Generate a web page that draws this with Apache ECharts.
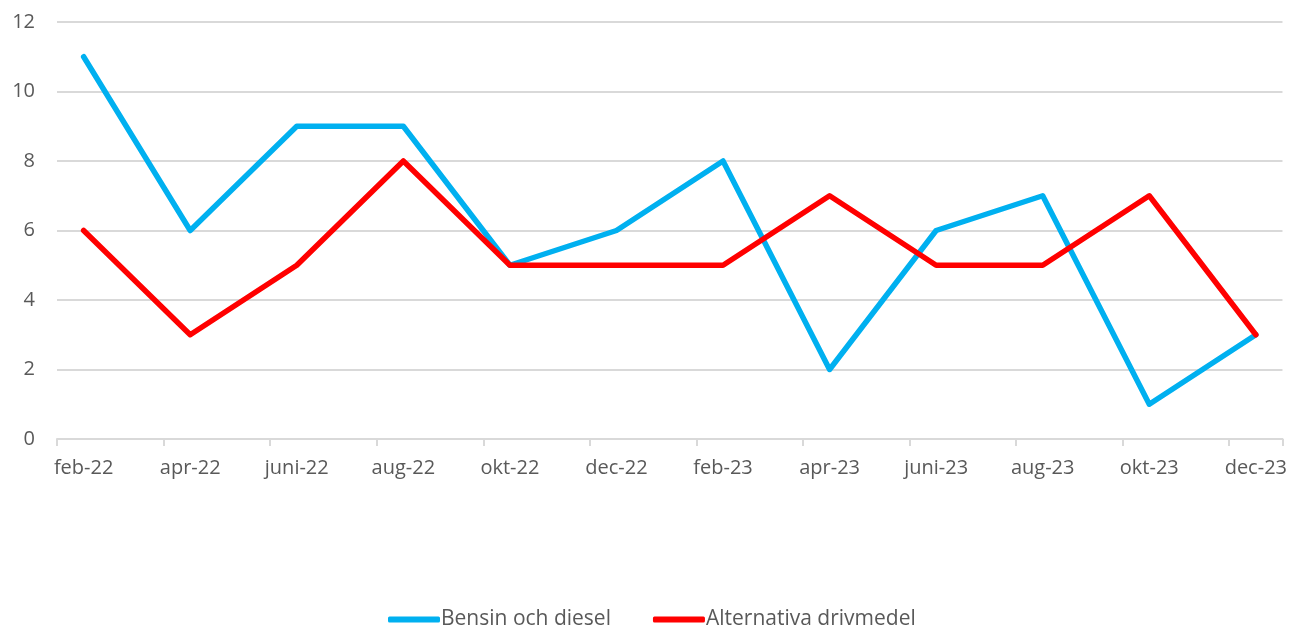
<!DOCTYPE html>
<html>
<head>
<meta charset="utf-8">
<script src="https://cdn.jsdelivr.net/npm/echarts@6/dist/echarts.min.js"></script>
<style>
  html, body { margin: 0; padding: 0; background: #fff; }
  #chart { width: 1290px; height: 628px; }
</style>
</head>
<body>
<div id="chart"></div>
<script>
// months on the axis, every other one carries a value
var months = ["feb-22", "mar-22", "apr-22", "maj-22", "juni-22", "juli-22", "aug-22", "sep-22",
  "okt-22", "nov-22", "dec-22", "jan-23", "feb-23", "mar-23", "apr-23", "maj-23", "juni-23",
  "juli-23", "aug-23", "sep-23", "okt-23", "nov-23", "dec-23"];
var bensin = [11, null, 6, null, 9, null, 9, null, 5, null, 6, null, 8, null, 2, null, 6, null, 7, null, 1, null, 3];
var alternativ = [6, null, 3, null, 5, null, 8, null, 5, null, 5, null, 5, null, 7, null, 5, null, 5, null, 7, null, 3];

var font = "'Open Sans', 'Liberation Sans', sans-serif";

var chart = echarts.init(document.getElementById("chart"));
chart.setOption({
  animation: false,
  textStyle: { fontFamily: font },
  grid: { left: 57, right: 7, top: 22, bottom: 189 },
  legend: {
    top: 604,
    left: 383,
    itemWidth: 52,
    itemHeight: 6,
    itemGap: 42,
    icon: "roundRect",
    textStyle: { fontSize: 21, color: "#595959", fontFamily: font, padding: [0, 0, 0, -4] },
    data: ["Bensin och diesel", "Alternativa drivmedel"]
  },
  xAxis: {
    type: "category",
    data: months,
    boundaryGap: true,
    axisLine: { lineStyle: { color: "#D9D9D9", width: 2 } },
    axisTick: { show: true, interval: 1, length: 7, lineStyle: { color: "#D9D9D9", width: 2 } },
    axisLabel: { interval: 1, color: "#595959", fontSize: 20, margin: 19 }
  },
  yAxis: {
    type: "value",
    min: 0,
    max: 12,
    interval: 2,
    axisLine: { show: false },
    axisTick: { show: false },
    splitLine: { lineStyle: { color: "#D9D9D9", width: 2 } },
    axisLabel: { color: "#595959", fontSize: 20, margin: 22 }
  },
  series: [
    {
      name: "Bensin och diesel",
      type: "line",
      data: bensin,
      connectNulls: true,
      symbol: "none",
      lineStyle: { color: "#00B0F0", width: 5.5, join: "round", cap: "round" },
      itemStyle: { color: "#00B0F0" }
    },
    {
      name: "Alternativa drivmedel",
      type: "line",
      data: alternativ,
      connectNulls: true,
      symbol: "none",
      lineStyle: { color: "#FF0000", width: 5.5, join: "round", cap: "round" },
      itemStyle: { color: "#FF0000" }
    }
  ]
});
</script>
</body>
</html>
